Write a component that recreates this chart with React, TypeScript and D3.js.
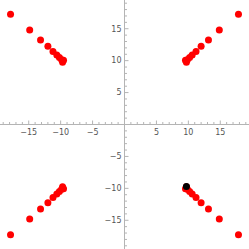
import React, { useEffect, useRef } from 'react';
import * as d3 from 'd3';

// points, one list per quadrant
const q1x = [17.85, 14.85, 13.15, 12.0, 11.2, 10.6, 10.2, 9.85, 9.55, 9.7];
const q1y = [17.25, 14.8, 13.25, 12.25, 11.45, 10.9, 10.5, 10.15, 10.05, 9.75];
const q2x = [-17.85, -14.85, -13.15, -12.0, -11.2, -10.6, -10.2, -9.85, -9.55, -9.7];
const q2y = [17.25, 14.8, 13.25, 12.25, 11.45, 10.9, 10.5, 10.15, 10.05, 9.75];
const q3x = [-17.85, -14.85, -13.15, -12.0, -11.2, -10.6, -10.2, -9.85, -9.55, -9.7];
const q3y = [-17.25, -14.8, -13.25, -12.25, -11.45, -10.9, -10.5, -10.15, -10.05, -9.75];
const q4x = [17.85, 14.85, 13.15, 12.0, 11.2, 10.6, 10.2, 9.85, 9.55, 9.7];
const q4y = [-17.25, -14.8, -13.25, -12.25, -11.45, -10.9, -10.5, -10.15, -10.05, -9.75];

// the single black point
const markX = [9.7];
const markY = [-9.7];

const majorTicks = [-15, -10, -5, 5, 10, 15];
const minorTicks = [-19, -18, -17, -16, -14, -13, -12, -11, -9, -8, -7, -6, -4, -3, -2, -1,
  1, 2, 3, 4, 6, 7, 8, 9, 11, 12, 13, 14, 16, 17, 18, 19];

const App: React.FC = () => {
  const svgRef = useRef<SVGSVGElement>(null);

  useEffect(() => {
    if (!svgRef.current) return;
    const svg = d3.select(svgRef.current);
    svg.selectAll("*").remove();

    const size = 249;
    const x = d3.scaleLinear().domain([-19.5, 19.5]).range([0, size]);
    const y = d3.scaleLinear().domain([-19.5, 19.5]).range([size, 0]);

    const axisColor = "#b4b4b4";
    const labelColor = "#555";
    const x0 = x(0);
    const y0 = y(0);

    const g = svg.append("g");

    // axes lines
    g.append("line")
      .attr("x1", 0).attr("x2", size)
      .attr("y1", y0).attr("y2", y0)
      .attr("stroke", axisColor).attr("stroke-width", 1);
    g.append("line")
      .attr("x1", x0).attr("x2", x0)
      .attr("y1", 0).attr("y2", size)
      .attr("stroke", axisColor).attr("stroke-width", 1);

    // x ticks (drawn upward)
    g.selectAll(".xmaj").data(majorTicks).enter().append("line")
      .attr("x1", d => x(d)).attr("x2", d => x(d))
      .attr("y1", y0).attr("y2", y0 - 4)
      .attr("stroke", axisColor);
    g.selectAll(".xmin").data(minorTicks).enter().append("line")
      .attr("x1", d => x(d)).attr("x2", d => x(d))
      .attr("y1", y0).attr("y2", y0 - 2.5)
      .attr("stroke", axisColor);

    // y ticks (drawn to the right)
    g.selectAll(".ymaj").data(majorTicks).enter().append("line")
      .attr("y1", d => y(d)).attr("y2", d => y(d))
      .attr("x1", x0).attr("x2", x0 + 4)
      .attr("stroke", axisColor);
    g.selectAll(".ymin").data(minorTicks).enter().append("line")
      .attr("y1", d => y(d)).attr("y2", d => y(d))
      .attr("x1", x0).attr("x2", x0 + 2.5)
      .attr("stroke", axisColor);

    const fmt = (d: number) => (d < 0 ? "\u2212" + Math.abs(d) : String(d));

    g.selectAll(".xlab").data(majorTicks).enter().append("text")
      .attr("x", d => x(d))
      .attr("y", y0 + 10)
      .attr("text-anchor", "middle")
      .style("font-family", "'DejaVu Sans', sans-serif")
      .style("font-size", "8px")
      .style("fill", labelColor)
      .text(fmt);

    g.selectAll(".ylab").data(majorTicks).enter().append("text")
      .attr("x", x0 - 3)
      .attr("y", d => y(d))
      .attr("dy", "0.35em")
      .attr("text-anchor", "end")
      .style("font-family", "'DejaVu Sans', sans-serif")
      .style("font-size", "8px")
      .style("fill", labelColor)
      .text(fmt);

    // red points
    const quads = [[q1x, q1y], [q2x, q2y], [q3x, q3y], [q4x, q4y]];
    quads.forEach(([qx, qy]) => {
      g.selectAll(null).data(d3.range(qx.length)).enter().append("circle")
        .attr("cx", i => x(qx[i]))
        .attr("cy", i => y(qy[i]))
        .attr("r", 3.5)
        .attr("fill", "#ff0000");
    });

    // black point on top
    g.selectAll(null).data(d3.range(markX.length)).enter().append("circle")
      .attr("cx", i => x(markX[i]))
      .attr("cy", i => y(markY[i]))
      .attr("r", 3.5)
      .attr("fill", "#000");
  }, []);

  return (
    <div style={{ position: "absolute", left: 0, top: 0, width: 249, height: 249, background: "#fff" }}>
      <svg ref={svgRef} width={249} height={249} style={{ display: "block" }}></svg>
    </div>
  );
};

export default App;
